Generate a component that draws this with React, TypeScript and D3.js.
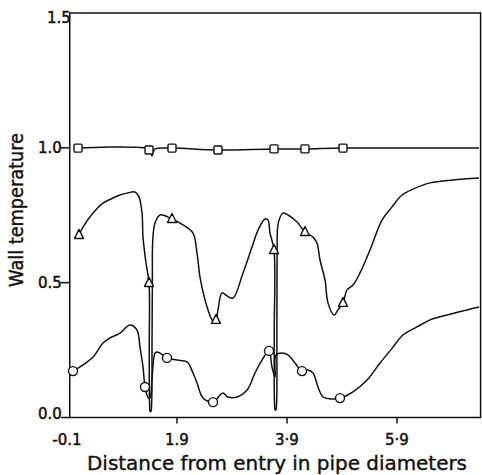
import React from 'react';
import * as d3 from 'd3';

// Axis ticks
const xTickValues = [-0.1, 1.9, 3.9, 5.9];
const xTickLabels = ['-0.1', '1.9', '3·9', '5·9'];
const xTickMarks = [1.9, 3.9, 5.9];
const yTickValues = [0, 0.5, 1.0, 1.5];
const yTickLabels = ['0.0', '0.5', '1.0', '1.5'];
const yTickMarks = [0, 0.5, 1.0];

const xTitle = 'Distance from entry in pipe diameters';
const yTitle = 'Wall temperature';

// Square series (top)
const squareLineX = [0.1, 1.391, 1.427, 1.445, 1.464, 1.5, 1.809, 2.645, 3.664, 4.227, 4.918, 7.391];
const squareLineY = [0.999, 0.996, 0.984, 0.97, 0.981, 0.996, 0.999, 0.992, 0.996, 0.996, 0.999, 0.999];
const squareMarkX = [0.1, 1.391, 1.809, 2.645, 3.664, 4.227, 4.918];
const squareMarkY = [0.999, 0.992, 0.999, 0.992, 0.996, 0.996, 0.999];

// Triangle series (middle)
const triLineX = [0.118, 0.191, 0.373, 0.555, 0.736, 0.864, 0.991, 1.136, 1.209, 1.264, 1.282, 1.336, 1.391, 1.396, 1.4, 1.412, 1.425, 1.44, 1.446, 1.452, 1.46, 1.5, 1.591, 1.809, 2.009, 2.191, 2.264, 2.318, 2.409, 2.464, 2.518, 2.555, 2.609, 2.645, 2.718, 2.809, 2.918, 3.1, 3.264, 3.373, 3.5, 3.555, 3.591, 3.664, 3.668, 3.672, 3.684, 3.697, 3.712, 3.716, 3.72, 3.728, 3.755, 3.827, 3.918, 4.082, 4.227, 4.373, 4.445, 4.5, 4.591, 4.645, 4.755, 4.827, 4.918, 4.991, 5.1, 5.227, 5.409, 5.627, 5.809, 5.991, 6.191, 6.5, 6.918, 7.391];
const triLineY = [0.677, 0.706, 0.758, 0.795, 0.814, 0.825, 0.832, 0.836, 0.818, 0.758, 0.669, 0.573, 0.499, 0.28, 0.06, 0.022, 0.022, 0.06, 0.28, 0.5, 0.66, 0.721, 0.751, 0.736, 0.714, 0.684, 0.61, 0.521, 0.436, 0.399, 0.369, 0.358, 0.362, 0.399, 0.462, 0.451, 0.443, 0.536, 0.632, 0.695, 0.736, 0.732, 0.684, 0.621, 0.32, 0.06, 0.028, 0.028, 0.06, 0.33, 0.6, 0.7, 0.732, 0.758, 0.751, 0.725, 0.688, 0.669, 0.647, 0.584, 0.51, 0.425, 0.38, 0.399, 0.425, 0.473, 0.491, 0.536, 0.621, 0.732, 0.781, 0.825, 0.847, 0.87, 0.881, 0.888];
const triMarkX = [0.118, 1.391, 1.809, 2.609, 3.664, 4.227, 4.918];
const triMarkY = [0.677, 0.499, 0.736, 0.362, 0.621, 0.688, 0.425];

// Circle series (bottom)
const circLineX = [0.009, 0.191, 0.373, 0.555, 0.682, 0.864, 1.045, 1.173, 1.227, 1.282, 1.318, 1.36, 1.39, 1.42, 1.445, 1.5, 1.536, 1.591, 1.718, 1.9, 2.082, 2.191, 2.264, 2.373, 2.555, 2.682, 2.736, 2.827, 2.991, 3.173, 3.318, 3.445, 3.573, 3.627, 3.682, 3.7, 3.809, 3.918, 4.045, 4.173, 4.282, 4.373, 4.464, 4.555, 4.682, 4.864, 5.1, 5.355, 5.591, 5.827, 6.009, 6.264, 6.5, 6.809, 7.173, 7.391];
const circLineY = [0.172, 0.195, 0.224, 0.276, 0.295, 0.313, 0.343, 0.324, 0.261, 0.187, 0.113, 0.08, 0.07, 0.08, 0.14, 0.239, 0.243, 0.239, 0.221, 0.213, 0.206, 0.165, 0.128, 0.072, 0.057, 0.083, 0.091, 0.076, 0.076, 0.102, 0.165, 0.213, 0.247, 0.187, 0.15, 0.232, 0.239, 0.232, 0.202, 0.172, 0.176, 0.165, 0.113, 0.076, 0.069, 0.072, 0.095, 0.139, 0.202, 0.261, 0.306, 0.336, 0.362, 0.38, 0.399, 0.41];
const circMarkX = [0.009, 1.318, 1.718, 2.555, 3.573, 4.173, 4.864];
const circMarkY = [0.172, 0.113, 0.221, 0.057, 0.247, 0.172, 0.072];

const W = 482;
const H = 475;

export default function App() {
  const x = d3.scaleLinear().domain([-0.1, 7.42]).range([67, 480.6]);
  const y = d3.scaleLinear().domain([0, 1.5]).range([417.5, 13]);
  const x0 = x(-0.05);
  const x1 = x(7.42);
  const yTop = y(1.5);
  const yBot = y(0);

  const line = d3
    .line<[number, number]>()
    .x((d) => x(d[0]))
    .y((d) => y(d[1]))
    .curve(d3.curveCatmullRom.alpha(0.5));

  const zip = (a: number[], b: number[]) => a.map((v, i) => [v, b[i]] as [number, number]);

  const stroke = '#111';
  const sw = 1.5;
  const font = '"DejaVu Sans", "Liberation Sans", sans-serif';

  return (
    <svg
      width={W}
      height={H}
      viewBox={`0 0 ${W} ${H}`}
      style={{ position: 'absolute', left: 0, top: 0, background: '#fff' }}
    >
      <rect x={0} y={0} width={W} height={H} fill="#fff" />
      {/* frame */}
      <rect x={x0} y={yTop} width={x1 - x0} height={yBot - yTop} fill="none" stroke={stroke} strokeWidth={1.5} />
      {/* y ticks */}
      {yTickMarks.map((v) => (
        <line key={'yt' + v} x1={x0 - 9} x2={x0} y1={y(v)} y2={y(v)} stroke={stroke} strokeWidth={1.5} />
      ))}
      {yTickValues.map((v, i) => (
        <text
          key={'yl' + v}
          x={v === 1.5 ? x0 + 1 : x0 - 8}
          y={v === 1.5 ? y(v) + 10 : v === 0 ? y(v) + 1 : y(v) + 5.5}
          textAnchor="end"
          fontFamily={font}
          fontSize={15}
          fill={stroke}
          stroke={stroke}
          strokeWidth={0.5}
        >
          {yTickLabels[i]}
        </text>
      ))}
      {/* x ticks */}
      {xTickMarks.map((v) => (
        <line key={'xt' + v} x1={x(v)} x2={x(v)} y1={yBot} y2={yBot + 6} stroke={stroke} strokeWidth={1.5} />
      ))}
      {xTickValues.map((v, i) => (
        <text
          key={'xl' + v}
          x={x(v)}
          y={445}
          textAnchor="middle"
          fontFamily={font}
          fontSize={15}
          fill={stroke}
          stroke={stroke}
          strokeWidth={0.5}
        >
          {xTickLabels[i]}
        </text>
      ))}
      {/* titles */}
      <text
        x={277}
        y={470}
        textAnchor="middle"
        fontFamily={font}
        fontSize={20}
        textLength={380}
        lengthAdjust="spacingAndGlyphs"
        fill={stroke}
        stroke={stroke}
        strokeWidth={0.4}
      >
        {xTitle}
      </text>
      <text
        transform={`translate(23,210) rotate(-90)`}
        textAnchor="middle"
        fontFamily={font}
        fontSize={20}
        textLength={154}
        lengthAdjust="spacingAndGlyphs"
        fill={stroke}
        stroke={stroke}
        strokeWidth={0.4}
      >
        {yTitle}
      </text>
      {/* curves */}
      <path d={line(zip(squareLineX, squareLineY)) || ''} fill="none" stroke={stroke} strokeWidth={sw} />
      <path d={line(zip(triLineX, triLineY)) || ''} fill="none" stroke={stroke} strokeWidth={sw} />
      <path d={line(zip(circLineX, circLineY)) || ''} fill="none" stroke={stroke} strokeWidth={sw} />
      {/* markers */}
      {squareMarkX.map((v, i) => (
        <rect
          key={'sq' + i}
          x={x(v) - 4}
          y={y(squareMarkY[i]) - 4}
          width={8}
          height={8}
          rx={1}
          fill="#fff"
          stroke={stroke}
          strokeWidth={1.4}
        />
      ))}
      {triMarkX.map((v, i) => (
        <path
          key={'tr' + i}
          transform={`translate(${x(v)},${y(triMarkY[i])})`}
          d="M0,-5.5L4.5,3.5L-4.5,3.5Z"
          fill="#fff"
          stroke={stroke}
          strokeWidth={1.4}
          strokeLinejoin="round"
        />
      ))}
      {circMarkX.map((v, i) => (
        <circle key={'ci' + i} cx={x(v)} cy={y(circMarkY[i])} r={4.5} fill="#fff" stroke={stroke} strokeWidth={1.4} />
      ))}
    </svg>
  );
}
